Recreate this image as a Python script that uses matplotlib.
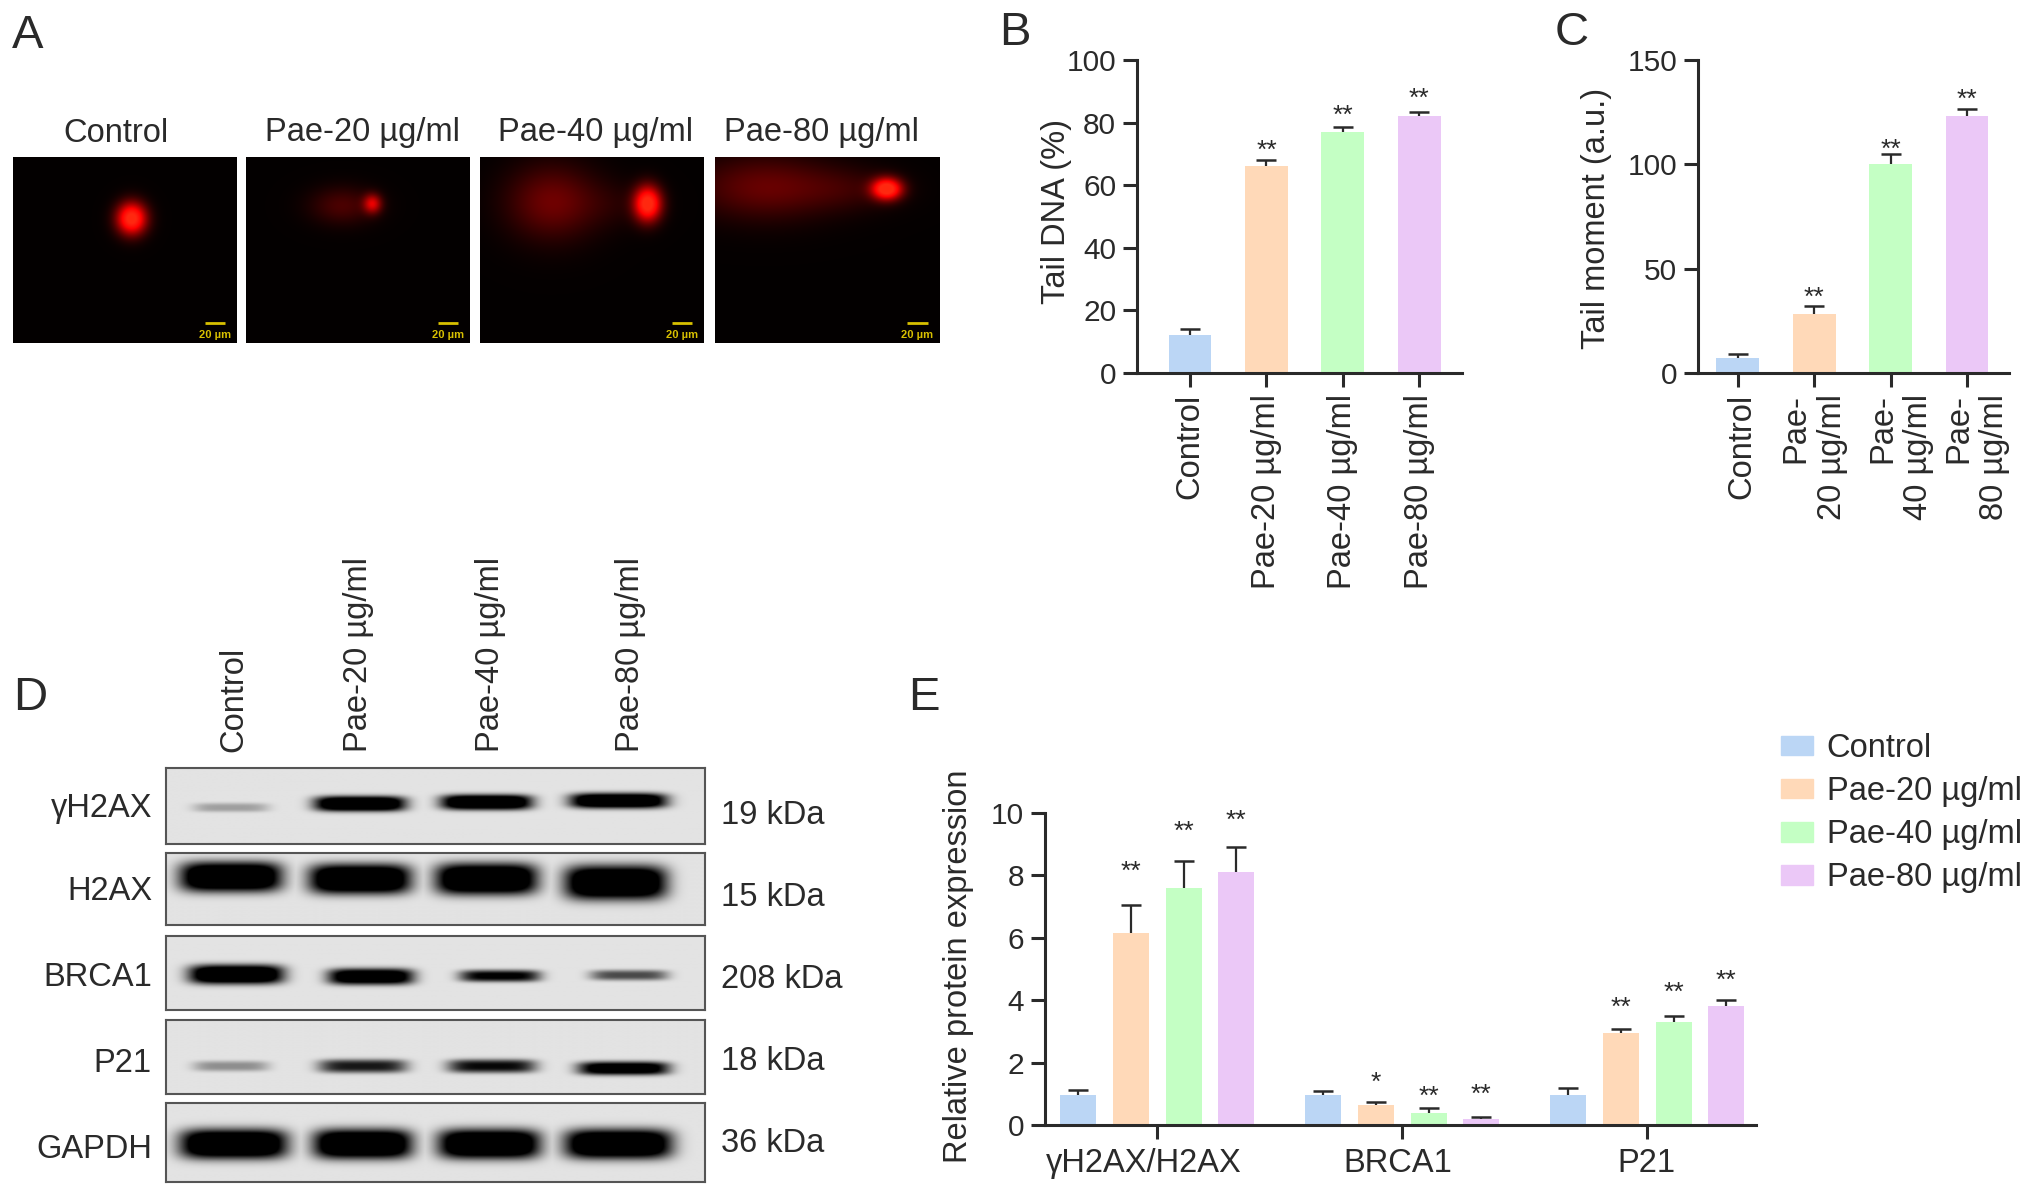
import numpy as np
import matplotlib
matplotlib.use("Agg")
import matplotlib.pyplot as plt
from matplotlib.patches import Patch
from matplotlib.transforms import ScaledTranslation

W, H = 2032, 1198
plt.rcParams['font.family'] = ['Liberation Sans', 'DejaVu Sans']
INK = '#2a2a2a'
plt.rcParams['text.color'] = INK

# ---------- data ----------
groups = ['Control', 'Pae-20 µg/ml', 'Pae-40 µg/ml', 'Pae-80 µg/ml']
colors = ['#BBD6F5', '#FFD9B8', '#C4FFC4', '#EBC8F7']

tail_dna = [12, 66, 77, 82]
tail_dna_top = [14, 68, 78.5, 83.5]
tail_dna_star = [None, 71, 82, 87.5]
tail_dna_labels = groups

tail_moment = [7, 28.5, 100, 123]
tail_moment_top = [9, 32, 105, 126.5]
tail_moment_star = [None, 36, 107, 131]
tail_moment_labels = ['Control', 'Pae-\n20 µg/ml', 'Pae-\n40 µg/ml', 'Pae-\n80 µg/ml']

proteins = ['γH2AX/H2AX', 'BRCA1', 'P21']
expr_control = [.97, .97, .97]
expr_20 = [6.15, 0.63, 2.95]
expr_40 = [7.6, 0.4, 3.3]
expr_80 = [8.1, 0.18, 3.8]
top_control = [1.13, 1.1, 1.17]
top_20 = [7.05, 0.73, 3.08]
top_40 = [8.45, 0.55, 3.48]
top_80 = [8.9, 0.27, 4.0]
star_20 = [('**', 8.1), ('*', 1.35), ('**', 3.77)]
star_40 = [('**', 9.4), ('**', .9), ('**', 4.22)]
star_80 = [('**', 9.75), ('**', .97), ('**', 4.62)]

blot_rows = ['γH2AX', 'H2AX', 'BRCA1', 'P21', 'GAPDH']
blot_kda = ['19 kDa', '15 kDa', '208 kDa', '18 kDa', '36 kDa']
# each band: x centre, y centre, half width, half height, strength (fractions of the blot)
blot_bands = [
    [(.12, .52, .07, .06, .2), (.36, .47, .085, .1, 1.0), (.595, .45, .085, .1, 1.0), (.84, .43, .09, .1, 1.0)],
    [(.12, .33, .095, .21, 1.0), (.36, .36, .095, .21, 1.0), (.595, .36, .095, .22, 1.0), (.835, .41, .095, .24, 1.0)],
    [(.13, .52, .088, .13, 1.0), (.38, .55, .08, .11, .9), (.62, .54, .075, .08, .7), (.86, .53, .072, .07, .45)],
    [(.12, .63, .07, .07, .25), (.365, .63, .082, .09, .6), (.605, .63, .082, .09, .65), (.85, .66, .085, .09, .85)],
    [(.125, .52, .1, .19, 1.0), (.365, .52, .092, .19, 1.0), (.6, .52, .095, .19, 1.0), (.84, .52, .1, .19, 1.0)],
]
# comet components: x centre, y centre, sigma x, sigma y, strength (fractions of the picture)
comets = [
    [(.53, .33, .046, .06, 1.3)],
    [(.565, .25, .028, .036, .7), (.43, .26, .1, .07, .24)],
    [(.75, .25, .042, .065, 1.3), (.32, .24, .14, .14, .36), (.6, .25, .12, .09, .08)],
    [(.765, .17, .046, .04, 1.35), (.22, .16, .22, .12, .33), (.6, .17, .16, .08, .13)],
]
comet_titles = ['Control', 'Pae-20 µg/ml', 'Pae-40 µg/ml', 'Pae-80 µg/ml']


# ---------- helpers ----------
def fx(x): return x / W
def fy(y): return 1 - y / H

def axes_px(x0, y0, x1, y1, **kw):
    return fig.add_axes([fx(x0), fy(y1), (x1 - x0) / W, (y1 - y0) / H], **kw)

def label(x, y, s, size=23.5, **kw):
    kw.setdefault('ha', 'center')
    kw.setdefault('va', 'center')
    fig.text(fx(x), fy(y), s, fontsize=size, color=INK, **kw)

def style(ax):
    for s in ('top', 'right'):
        ax.spines[s].set_visible(False)
    for s in ('left', 'bottom'):
        ax.spines[s].set_linewidth(2.2)
        ax.spines[s].set_color(INK)
    ax.tick_params(axis='both', width=2.2, length=10, color=INK, labelsize=21.5, labelcolor=INK, pad=5)
    ax.patch.set_alpha(0)

def bars(ax, xs, vals, tops, width, cols):
    ax.bar(xs, vals, width=width, color=cols, linewidth=0, zorder=2)
    for x, v, t in zip(xs, vals, tops):
        ax.plot([x, x], [v, t], color=INK, lw=1.6, zorder=3, solid_capstyle='butt')
        ax.plot([x], [t], marker='_', ms=15, mew=1.8, color=INK, zorder=3)

def star(ax, x, y, s, size=19):
    ax.text(x, y, s, ha='center', va='center', fontsize=size, color=INK, zorder=4)

def nudge(lbl, dx_px, dy_px=0):
    lbl.set_transform(lbl.get_transform() + ScaledTranslation(dx_px / 100, dy_px / 100, fig.dpi_scale_trans))


fig = plt.figure(figsize=(W / 100, H / 100), dpi=100, facecolor='white')

# ---------- panel letters ----------
for s, x, y in [('A', 28, 36), ('B', 1015, 33), ('C', 1572, 33), ('D', 30, 698), ('E', 924, 698)]:
    label(x, y, s, size=34)

# ---------- A: comet pictures ----------
a_rects = [(13, 237), (246, 470), (480, 704), (715, 940)]
title_x = [116, 362, 595, 821]
title_y = [134, 132, 132, 132]
for (x0, x1), comps, t, tx, ty in zip(a_rects, comets, comet_titles, title_x, title_y):
    ax = axes_px(x0, 157, x1, 343)
    gy, gx = np.mgrid[0:1:186j, 0:1:224j]
    I = np.zeros_like(gx)
    for cx, cy, sx, sy, a in comps:
        I += a * np.exp(-((gx - cx) / sx) ** 2 / 2 - ((gy - cy) / sy) ** 2 / 2)
    rgb = np.dstack([np.clip(I * 1.15 + .015, 0, 1),
                     np.clip((I - .85) * .45, 0, .16),
                     np.clip((I - .85) * .2, 0, .06)])
    ax.imshow(rgb, extent=(0, 1, 1, 0), aspect='auto', interpolation='bilinear')
    ax.plot([.855, .945], [.89, .89], color='#d8c000', lw=2, solid_capstyle='butt')
    ax.text(.9, .955, '20 µm', color='#d8c000', fontsize=8, fontweight='bold', ha='center', va='center')
    ax.set_xlim(0, 1); ax.set_ylim(1, 0); ax.axis('off')
    label(tx, ty, t)

# ---------- B ----------
ax = axes_px(1137, 60, 1462, 373)
style(ax)
pos = np.arange(4)
bars(ax, pos, tail_dna, tail_dna_top, .56, colors)
for x, y in zip(pos, tail_dna_star):
    if y is not None:
        star(ax, x, y, '**')
ax.set_xlim(-.695, 3.56); ax.set_ylim(0, 100)
ax.set_yticks(range(0, 101, 20))
ax.set_xticks(pos, tail_dna_labels, rotation=90, fontsize=23.5)
label(1057, 211, 'Tail DNA (%)', rotation=90)

# ---------- C ----------
ax = axes_px(1698, 60, 2009, 373)
style(ax)
bars(ax, pos, tail_moment, tail_moment_top, .56, colors)
for x, y in zip(pos, tail_moment_star):
    if y is not None:
        star(ax, x, y, '**')
ax.set_xlim(-.52, 3.55); ax.set_ylim(0, 150)
ax.set_yticks([0, 50, 100, 150])
ax.set_xticks(pos, tail_moment_labels, rotation=90, fontsize=23.5, multialignment='right')
tl = ax.get_xticklabels()
nudge(tl[0], 4); nudge(tl[2], 10); nudge(tl[3], 10)
label(1596, 218, 'Tail moment (a.u.)', rotation=90)

# ---------- D: western blots ----------
blot_y = [(768, 844), (853, 925), (936, 1010), (1020, 1094), (1103, 1182)]
row_y = [808, 892, 978, 1063, 1149]
kda_y = [816, 898, 979, 1062, 1143]
for bands, (y0, y1), r, k, ry, ky in zip(blot_bands, blot_y, blot_rows, blot_kda, row_y, kda_y):
    ax = axes_px(166, y0, 705, y1)
    gy, gx = np.mgrid[0:1:90j, 0:1:540j]
    D = np.zeros_like(gx)
    for cx, cy, wx, wy, a in bands:
        D = np.maximum(D, a * np.exp(-np.abs((gx - cx) / wx) ** 5) * np.exp(-np.abs((gy - cy) / wy) ** 3))
    ax.imshow(.89 * (1 - np.clip(D * 1.5, 0, 1)), cmap='gray', vmin=0, vmax=1,
              extent=(0, 1, 1, 0), aspect='auto', interpolation='bilinear')
    ax.set_xticks([]); ax.set_yticks([])
    for s in ax.spines.values():
        s.set_linewidth(1.5); s.set_color('#555555')
    label(152, ry, r, ha='right')
    label(721, ky, k, ha='left')
for t, x in zip(groups, [234, 358, 491, 631]):
    label(x, 752, t, rotation=90, va='bottom')

# ---------- E ----------
ax = axes_px(1045, 813, 1756, 1125)
style(ax)
step = 4.64
rows = [(expr_control, top_control, None), (expr_20, top_20, star_20),
        (expr_40, top_40, star_40), (expr_80, top_80, star_80)]
for i, (vals, tops, stars) in enumerate(rows):
    xs = np.arange(3) * step + i
    bars(ax, xs, vals, tops, .68, colors[i])
    if stars:
        for x, (s, y) in zip(xs, stars):
            star(ax, x, y, s)
ax.set_xlim(-.625, 12.84); ax.set_ylim(0, 10)
ax.set_yticks(range(0, 11, 2))
ax.set_xticks(np.arange(3) * step + 1.5, proteins, fontsize=23.5)
tl = ax.get_xticklabels()
nudge(tl[0], -13, -2); nudge(tl[1], -4, -2); nudge(tl[2], -1, -2)
label(958, 966, 'Relative protein expression', rotation=90)
handles = [Patch(color=c, label=g) for c, g in zip(colors, groups)]
fig.legend(handles=handles, loc='upper left', bbox_to_anchor=(fx(1781), fy(733)), frameon=False,
           fontsize=23.5, handlelength=.98, handleheight=.56, handletextpad=.42,
           labelspacing=.37, borderpad=0, borderaxespad=0, labelcolor=INK)

fig.savefig('out.png', dpi=100)
